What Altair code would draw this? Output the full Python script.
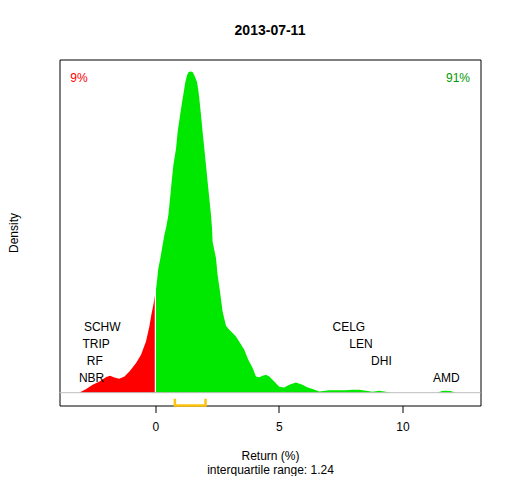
import altair as alt
import pandas as pd

FONT = "Liberation Sans"

# Density curve, left of zero (losses) and right of zero (gains)
red_x = [-3.06, -3.03, -2.80, -2.54, -2.26, -1.99, -1.83, -1.66, -1.46, -1.25,
         -1.05, -0.78, -0.58, -0.38, -0.243, -0.162, -0.081, 0.0]
red_d = [0.0, 0.0009, 0.0046, 0.0100, 0.0141, 0.0196, 0.0212, 0.0191, 0.0174, 0.0203,
         0.0265, 0.0370, 0.0474, 0.0639, 0.0826, 0.0972, 0.1097, 0.124]

green_x = [0.0, 0.040, 0.121, 0.202, 0.271, 0.364, 0.44, 0.526, 0.594, 0.659,
           0.728, 0.837, 0.902, 0.999, 1.104, 1.161, 1.213, 1.282, 1.347, 1.43,
           1.508, 1.577, 1.686, 1.739, 1.779, 1.848, 1.913, 1.981, 2.050, 2.115,
           2.184, 2.252, 2.293, 2.317, 2.454, 2.519, 2.616, 2.721, 2.859, 2.992,
           3.126, 3.263, 3.397, 3.599, 3.761, 3.934, 4.072, 4.205, 4.34, 4.476,
           4.610, 4.812, 5.014, 5.216, 5.418, 5.689, 5.956, 6.146, 6.361, 6.632,
           7.036, 7.711, 7.978, 8.249, 8.520, 8.787, 9.058, 9.329, 9.531, 11.42,
           11.6, 11.75, 11.95, 12.16]
green_d = [0.124, 0.1325, 0.1554, 0.1678, 0.1803, 0.1969, 0.207, 0.2218, 0.2426, 0.2633,
           0.2841, 0.3049, 0.3256, 0.3464, 0.3672, 0.3776, 0.3879, 0.3963, 0.4004, 0.401,
           0.4004, 0.3963, 0.3879, 0.3776, 0.3672, 0.3464, 0.3256, 0.3049, 0.2841, 0.2633,
           0.2426, 0.2218, 0.2052, 0.1885, 0.1678, 0.1470, 0.1262, 0.1013, 0.0835, 0.0785,
           0.0744, 0.0702, 0.0636, 0.0536, 0.0411, 0.0312, 0.0203, 0.0193, 0.0212, 0.0224,
           0.0203, 0.0141, 0.0075, 0.0066, 0.0100, 0.0128, 0.0100, 0.0069, 0.0046, 0.0016,
           0.0029, 0.0029, 0.0037, 0.0037, 0.0025, 0.0012, 0.0025, 0.0012, 0.0, 0.0,
           0.002, 0.0025, 0.002, 0.0]

label_names = ["SCHW", "TRIP", "RF", "NBR", "CELG", "LEN", "DHI", "AMD"]
label_x = [-2.15, -2.40, -2.45, -2.58, 7.83, 8.32, 9.15, 11.78]
label_y = [0.0822, 0.0614, 0.0399, 0.0187, 0.0822, 0.0614, 0.0399, 0.0187]

pct_text = ["9%", "91%"]
pct_x = [-3.09, 12.25]
pct_y = [0.393, 0.393]
pct_color = ["#FF0000", "#009A00"]

iqr_x = [0.79, 0.79, 2.03, 2.03]
iqr_y = [-0.0075, -0.016, -0.016, -0.0075]
iqr_order = [0, 1, 2, 3]

x_ticks = [0, 5, 10]
x_domain = [-3.88, 13.16]
y_domain = [-0.016, 0.416]

red_df = pd.DataFrame({"x": red_x, "d": red_d})
green_df = pd.DataFrame({"x": green_x, "d": green_d})
lab_df = pd.DataFrame({"name": label_names, "x": label_x, "y": label_y})
pct_df = pd.DataFrame({"t": pct_text, "x": pct_x, "y": pct_y, "c": pct_color})
iqr_df = pd.DataFrame({"x": iqr_x, "y": iqr_y, "o": iqr_order})

xs = alt.Scale(domain=x_domain, nice=False, zero=False)
ys = alt.Scale(domain=y_domain, nice=False, zero=False)

x_axis = alt.Axis(values=x_ticks, grid=False, domain=False, tickSize=7, tickColor="black",
                  labelFontSize=12, labelFont=FONT, labelColor="black", labelPadding=9,
                  title=["Return (%)", "interquartile range: 1.24"],
                  titleFont=FONT, titleFontSize=12, titleFontWeight="normal",
                  titleColor="black", titleBaseline="alphabetic", titleY=53.5,
                  titleLineHeight=14)
y_axis = alt.Axis(labels=False, ticks=False, domain=False, grid=False,
                  title="Density", titleFont=FONT, titleFontSize=12,
                  titleFontWeight="normal", titleColor="black",
                  titleBaseline="alphabetic", titleX=-42.5, titleY=173, titleAngle=270)

red = alt.Chart(red_df).mark_area(color="#FF0000", interpolate="linear").encode(
    x=alt.X("x:Q", scale=xs, axis=x_axis),
    y=alt.Y("d:Q", scale=ys, axis=y_axis),
    y2=alt.datum(0),
)
green = alt.Chart(green_df).mark_area(color="#00E800", interpolate="linear").encode(
    x=alt.X("x:Q", scale=xs),
    y=alt.Y("d:Q", scale=ys),
    y2=alt.datum(0),
)
zero_line = alt.Chart(pd.DataFrame({"x": [0.0]})).mark_rule(color="white", strokeWidth=1.2).encode(
    x=alt.X("x:Q", scale=xs),
    y=alt.datum(0),
    y2=alt.datum(0.14),
)
base = alt.Chart(pd.DataFrame({"y": [0.0]})).mark_rule(color="#BEBEBE", strokeWidth=1).encode(
    y=alt.Y("y:Q", scale=ys),
)
iqr = alt.Chart(iqr_df).mark_line(color="#FFC20E", strokeWidth=2.5, clip=False).encode(
    x=alt.X("x:Q", scale=xs),
    y=alt.Y("y:Q", scale=ys),
    order="o:Q",
)
labels = alt.Chart(lab_df).mark_text(fontSize=12, font=FONT, color="black",
                                      align="center", baseline="middle").encode(
    x=alt.X("x:Q", scale=xs),
    y=alt.Y("y:Q", scale=ys),
    text="name:N",
)
pcts = alt.Chart(pct_df).mark_text(fontSize=12, font=FONT, align="center",
                                    baseline="middle").encode(
    x=alt.X("x:Q", scale=xs),
    y=alt.Y("y:Q", scale=ys),
    text="t:N",
    color=alt.Color("c:N", scale=None),
)

chart = alt.layer(red, green, zero_line, base, iqr, labels, pcts).properties(
    width=421, height=346,
    title=alt.TitleParams("2013-07-11", fontSize=14, fontWeight="bold", font=FONT,
                          color="black", anchor="middle", offset=21.5),
    padding={"left": 51.5, "top": 51.5, "right": 20, "bottom": 70.5},
    autosize=alt.AutoSizeParams(type="none"),
).configure_view(stroke="black", strokeWidth=1)

chart.save("out.html", embed_options={"renderer": "svg", "actions": False})
